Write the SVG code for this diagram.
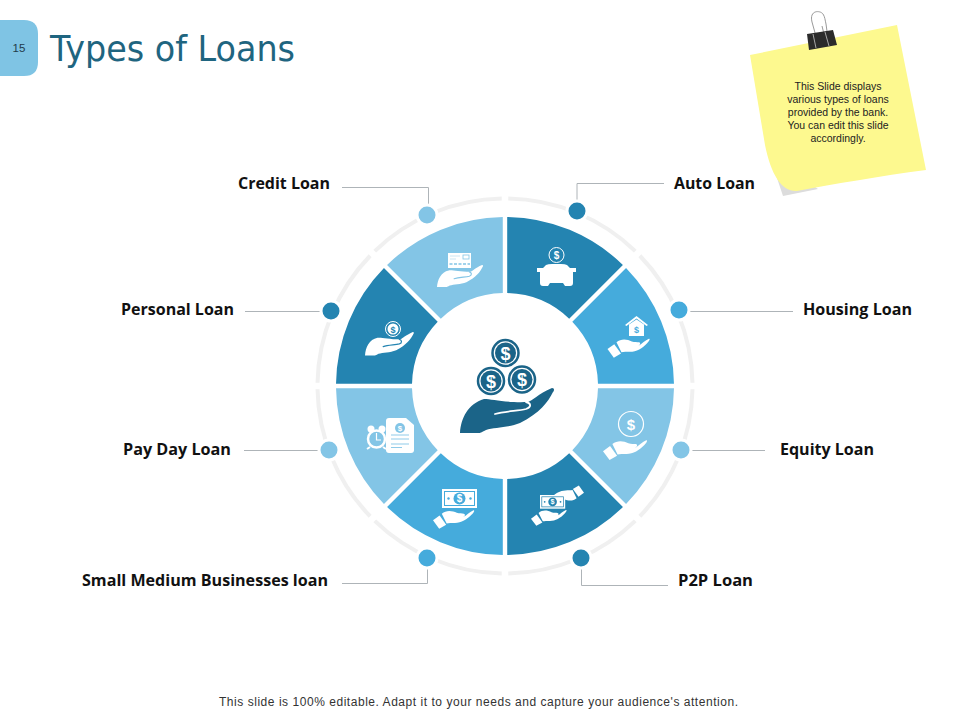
<svg xmlns="http://www.w3.org/2000/svg" xmlns:xlink="http://www.w3.org/1999/xlink" width="960" height="720" viewBox="0 0 960 720">
<style>
.lbl{font:bold 16px "Open Sans","Liberation Sans",sans-serif;fill:#111}
.note{font:10.500px "Liberation Sans",Arial,sans-serif;fill:#222;text-anchor:middle}
.d{font-family:"Liberation Sans",Arial,sans-serif;font-weight:bold;text-anchor:middle}
.dark{fill:#2484b1;color:#2484b1}
.mid{fill:#45abdc;color:#45abdc}
.light{fill:#83c5e6;color:#83c5e6}
.dot{stroke:#fff;stroke-width:3}
.w{fill:#fff}
.conn{fill:none;stroke:#aeb4b8;stroke-width:1}
.ring{fill:none;stroke:#f0f0f0;stroke-width:4}
.hline{fill:none;stroke:currentColor;stroke-width:2.4;stroke-linecap:round}
</style>
<defs>
<path id="seg" d="M507.2,217.01 A169,169 0 0 1 622.9,264.95 L569.19,318.7 A93,93 0 0 0 507.2,293.03 Z"/>
<path id="arc" class="ring" d="M508.27,198.53 A187.5,187.5 0 0 1 635.25,251.13"/>
<g id="hand">
<path fill="#fff" d="M0,45 C1,30 8,14 24,11 C32,10 45,14 68,14 C72,13 78,6 92,0 C95,0 94,3 93,4 C88,14 80,25 60,35 C48,40 34,39 26,42 C22,44 21,45 19,45 Z"/>
<path class="hline" d="M35,28 C45,25 58,25 66,23 C72,21 71,15 66,14"/>
</g>
<g id="cuffhand" fill="#fff">
<path d="M0,28 L15,17 L30,38 L14,47 Z"/>
<path d="M20,13 C30,4 44,6 54,11 C60,13 66,12 70,13 C74,14 73,19 69,20 L52,21 L70,20 C76,17 84,8 92,5 C96,5 92,11 88,15 C78,26 64,34 50,34 C42,34 36,34 31,35 Z"/>
</g>
<g id="money">
<rect width="35" height="19" fill="#fff"/>
<rect x="2.500" y="2.500" width="30" height="14" fill="none" stroke="currentColor" stroke-width="1"/>
<circle cx="17.500" cy="9.500" r="6" fill="currentColor"/>
<circle cx="6.500" cy="9.500" r="1.200" fill="currentColor"/>
<circle cx="28.500" cy="9.500" r="1.200" fill="currentColor"/>
<text class="d" x="17.500" y="13" font-size="10" fill="#fff">$</text>
</g>
</defs>

<g id="page-tab">
<path d="M0,20 H24 Q38,20 38,34 V62 Q38,76 24,76 H0 Z" fill="#7fc4e4"/>
<text x="19" y="52" font-family="Liberation Sans,Arial,sans-serif" font-size="11.500" fill="#1f3b4a" text-anchor="middle">15</text>
</g>
<text id="title" x="50" y="61" font-family="DejaVu Sans,Verdana,sans-serif" font-size="36" fill="#1f6580" textLength="245" lengthAdjust="spacingAndGlyphs">Types of Loans</text>

<g id="sticky-note">
<path d="M764,130 L775,172 L783,196 L818,189 L790,170 Z" fill="#dcdcdc"/>
<path d="M750,55 L897,25 L926,170 C880,176 835,184 797,191 C782,192 771,175 765,145 Z" fill="#fdf98f"/>
<path d="M819,47 L812,22 C809,10 820,10 823,14 C825,17 825,20 826,24 L829,46 M827,46 L822,26" fill="none" stroke="#9a9a9a" stroke-width="1"/>
<path d="M807,34 L833,30 L837,45 L809,50 Z" fill="#2b2b2b"/>
<path d="M816,48 L813,34 M829,46 L825,32" stroke="#a8a8a8" stroke-width="1" fill="none"/>
<text class="note" x="838" y="90">This Slide displays</text>
<text class="note" x="838" y="103">various types of loans</text>
<text class="note" x="838" y="116">provided by the bank.</text>
<text class="note" x="838" y="129">You can edit this slide</text>
<text class="note" x="838" y="142">accordingly.</text>
</g>

<g id="ring">
<use href="#arc"/>
<use href="#arc" transform="rotate(45 505 386)"/>
<use href="#arc" transform="rotate(90 505 386)"/>
<use href="#arc" transform="rotate(135 505 386)"/>
<use href="#arc" transform="rotate(180 505 386)"/>
<use href="#arc" transform="rotate(225 505 386)"/>
<use href="#arc" transform="rotate(270 505 386)"/>
<use href="#arc" transform="rotate(315 505 386)"/>
</g>

<g id="connectors">
<path class="conn" d="M577,202 V183.500 H664"/>
<path class="conn" d="M688,311.500 H793"/>
<path class="conn" d="M690,450.500 H765"/>
<path class="conn" d="M581.500,567 V585.500 H668"/>
<path class="conn" d="M427.500,567 V583.500 H342"/>
<path class="conn" d="M320,450.500 H244"/>
<path class="conn" d="M322,311.500 H245"/>
<path class="conn" d="M428.500,206 V187.500 H342"/>
</g>

<g id="auto-loan" class="dark">
<use href="#seg"/>
<circle class="dot" cx="577" cy="211" r="10"/>
<text class="lbl" x="674" y="189" textLength="81" lengthAdjust="spacingAndGlyphs">Auto Loan</text>
<circle cx="556.500" cy="255" r="7.500" fill="none" stroke="#fff" stroke-width="1"/>
<text class="d" x="556.500" y="258.500" font-size="10" fill="#fff">$</text>
<path class="w" d="M537,268 H543 L546,265 Q548,264 552,264 H561 Q565,264 567,265 L570,268 H576 V272 H573 V283 Q573,286 570,286 H565 L563,283 H550 L548,286 H543 Q540,286 540,283 V272 H537 Z"/>
</g>

<g id="housing-loan" class="mid">
<use href="#seg" transform="rotate(45 505 386)"/>
<circle class="dot" cx="679" cy="310" r="10"/>
<text class="lbl" x="803" y="315" textLength="109" lengthAdjust="spacingAndGlyphs">Housing Loan</text>
<path class="w" d="M636.500,316 L648,325 L646.500,326 L636.500,318.500 L626.500,326 L625,325 Z"/>
<path class="w" d="M629,324.500 L636.500,319.500 L644,324.500 V336 H629 Z"/>
<text class="d" x="636.500" y="332.500" font-size="9" fill="#45abdc">$</text>
<use href="#cuffhand" transform="translate(607.500,336.500) scale(0.45)"/>
</g>

<g id="equity-loan" class="light">
<use href="#seg" transform="rotate(90 505 386)"/>
<circle class="dot" cx="681" cy="450" r="10"/>
<text class="lbl" x="780" y="455" textLength="94" lengthAdjust="spacingAndGlyphs">Equity Loan</text>
<circle cx="631" cy="424" r="12.500" fill="none" stroke="#fff" stroke-width="1.200"/>
<text class="d" x="631" y="429.500" font-size="15" font-weight="normal" fill="#fff">$</text>
<use href="#cuffhand" transform="translate(603,438) scale(0.47)"/>
</g>

<g id="p2p-loan" class="dark">
<use href="#seg" transform="rotate(135 505 386)"/>
<circle class="dot" cx="581" cy="558" r="10"/>
<text class="lbl" x="678" y="586" textLength="75" lengthAdjust="spacingAndGlyphs">P2P Loan</text>
<use href="#cuffhand" transform="translate(584,503) rotate(180) scale(0.37)"/>
<use href="#money" transform="translate(540,495) scale(0.72)"/>
<use href="#cuffhand" transform="translate(531,508) scale(0.38)"/>
</g>

<g id="small-medium-businesses-loan" class="mid">
<use href="#seg" transform="rotate(180 505 386)"/>
<circle class="dot" cx="427" cy="558" r="10"/>
<text class="lbl" x="82" y="586" textLength="246" lengthAdjust="spacingAndGlyphs">Small Medium Businesses loan</text>
<use href="#money" transform="translate(442,489)"/>
<use href="#cuffhand" transform="translate(433,508) scale(0.44)"/>
</g>

<g id="pay-day-loan" class="light">
<use href="#seg" transform="rotate(225 505 386)"/>
<circle class="dot" cx="329" cy="450" r="10"/>
<text class="lbl" x="123" y="455" textLength="108" lengthAdjust="spacingAndGlyphs">Pay Day Loan</text>
<circle cx="371" cy="429" r="3.500" class="w"/>
<circle cx="382" cy="429" r="3.500" class="w"/>
<circle cx="376.500" cy="439" r="8.500" fill="#83c5e6" stroke="#fff" stroke-width="2.500"/>
<path d="M376.500,433 V440 H381" fill="none" stroke="#fff" stroke-width="1.200"/>
<path d="M370,447 L367,449 M383,447 L386,449" stroke="#fff" stroke-width="2"/>
<path class="w" d="M389,418 H406 L414,425 V450 Q414,453 411,453 H389 Q386,453 386,450 V421 Q386,418 389,418 Z"/>
<circle cx="400" cy="428" r="5" fill="#83c5e6"/>
<text class="d" x="400" y="431" font-size="8" fill="#fff">$</text>
<path d="M391,435 H409 M391,439 H409 M391,444 H409 M391,447.500 H402" stroke="#83c5e6" stroke-width="0.900" fill="none"/>
</g>

<g id="personal-loan" class="dark">
<use href="#seg" transform="rotate(270 505 386)"/>
<circle class="dot" cx="331" cy="311" r="10"/>
<text class="lbl" x="121" y="315" textLength="113" lengthAdjust="spacingAndGlyphs">Personal Loan</text>
<circle cx="393" cy="329" r="7.500" fill="none" stroke="#fff" stroke-width="1"/>
<circle cx="393" cy="329" r="5.500" fill="#fff"/>
<text class="d" x="393" y="332.500" font-size="9" fill="#2484b1">$</text>
<use href="#hand" transform="translate(365,332) scale(0.52)"/>
</g>

<g id="credit-loan" class="light">
<use href="#seg" transform="rotate(315 505 386)"/>
<circle class="dot" cx="427" cy="215" r="10"/>
<text class="lbl" x="238" y="189" textLength="92" lengthAdjust="spacingAndGlyphs">Credit Loan</text>
<rect x="448" y="253" width="23" height="15" fill="#fff"/>
<rect x="463" y="255" width="6" height="4" fill="none" stroke="#83c5e6" stroke-width="0.800"/>
<path d="M450,256 H460 M450,259 H456" stroke="#cbe6f3" stroke-width="1" fill="none"/>
<path d="M449.500,264 H470" stroke="#83c5e6" stroke-width="1.500" stroke-dasharray="3 1.500" fill="none"/>
<use href="#hand" transform="translate(437,265) scale(0.49)"/>
</g>

<g id="center" fill="#1b6488" color="#fff">
<circle cx="505.500" cy="353" r="13" fill="#fff" stroke="#1b6488" stroke-width="2.500"/>
<circle cx="505.500" cy="353" r="10.500"/>
<text class="d" x="505.500" y="359.500" font-size="18" fill="#fff">$</text>
<circle cx="491" cy="381" r="13" fill="#fff" stroke="#1b6488" stroke-width="2.500"/>
<circle cx="491" cy="381" r="10.500"/>
<text class="d" x="491" y="387.500" font-size="18" fill="#fff">$</text>
<circle cx="522" cy="379.500" r="13" fill="#fff" stroke="#1b6488" stroke-width="2.500"/>
<circle cx="522" cy="379.500" r="10.500"/>
<text class="d" x="522" y="386" font-size="18" fill="#fff">$</text>
<path d="M460,433 C461,418 468,404 484,399 C492,399 505,403 528,402 C532,401 538,394 552,388 C555,388 554,391 553,392 C548,402 540,413 520,423 C508,428 494,427 486,430 C482,432 481,433 479,433 Z"/>
<path d="M495,414 C505,411 518,411 526,409 C532,407 531,403 526,402" fill="none" stroke="#fff" stroke-width="1.800" stroke-linecap="round"/>
</g>

<text id="footer" x="219" y="706" font-family="Liberation Sans,Arial,sans-serif" font-size="12" fill="#333" textLength="519">This slide is 100% editable. Adapt it to your needs and capture your audience's attention.</text>
</svg>
